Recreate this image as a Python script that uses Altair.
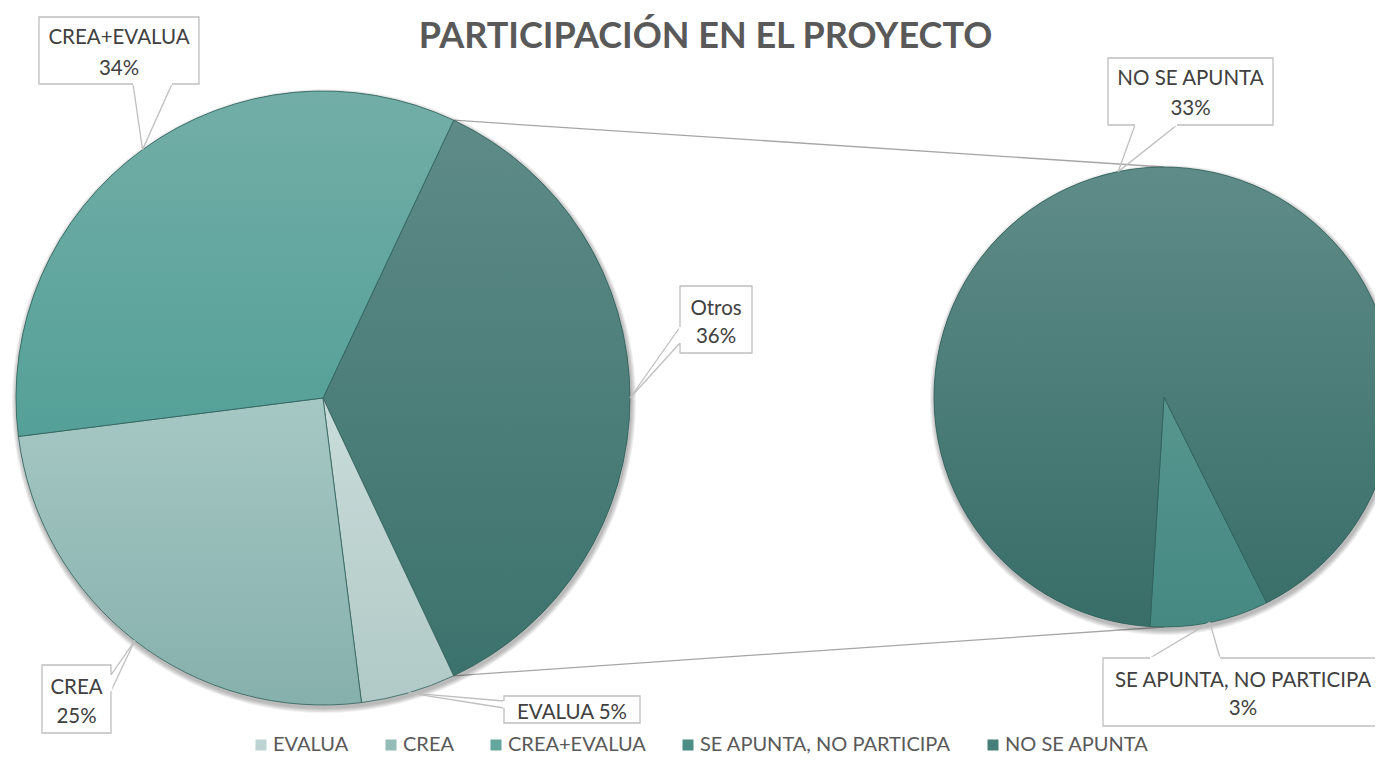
import math
import altair as alt
import pandas as pd

# ---------------- data ----------------
TITLE = "PARTICIPACIÓN EN EL PROYECTO"
main_labels = ["Otros", "EVALUA", "CREA", "CREA+EVALUA"]
main_values = [36, 5, 25, 34]
sub_labels = ["SE APUNTA, NO PARTICIPA", "NO SE APUNTA"]
sub_values = [3, 33]
legend_labels = ["EVALUA", "CREA", "CREA+EVALUA", "SE APUNTA, NO PARTICIPA", "NO SE APUNTA"]
palette = ["#bdd4d2", "#93bbb7", "#62a69e", "#4b8e87", "#467e79"]
other_color = "#477e79"
# gradient (top, bottom) colours of each slice
shades = {
    "EVALUA": ("#c9dcda", "#b1cac7"),
    "CREA": ("#a6c8c4", "#86b0ac"),
    "CREA+EVALUA": ("#72aea7", "#54a098"),
    "Otros": ("#5e8b87", "#3c726d"),
    "SE APUNTA, NO PARTICIPA": ("#56968f", "#458982"),
    "NO SE APUNTA": ("#5f8c88", "#386d68"),
}

# ---------------- layout (page pixel coordinates) ----------------
W, H, M = 1367, 749, 8
MAIN_C, MAIN_R = (323, 398), 307
SUB_C, SUB_R = (1164, 397), 230
SUB_START = 153.5
FONT = "Lato"
TXT = "#404040"
GRAY = "#bfbfbf"
LBL_SIZE = 20.5

main_start = 90 - main_values[0] / sum(main_values) * 180


def slice_angles(values, start):
    tot = sum(values)
    out, cum = [], 0
    for v in values:
        a1 = start + cum / tot * 360
        cum += v
        a2 = start + cum / tot * 360
        out.append((a1, a2))
    return out


def pt(c, r, deg):
    a = math.radians(deg)
    return c[0] + r * math.sin(a), c[1] - r * math.cos(a)


main_ang = slice_angles(main_values, main_start)
sub_ang = slice_angles(sub_values, SUB_START)

tips = {}
for lab, (a1, a2) in zip(main_labels, main_ang):
    tips[lab] = pt(MAIN_C, MAIN_R, (a1 + a2) / 2)
for lab, (a1, a2) in zip(sub_labels, sub_ang):
    tips[lab] = pt(SUB_C, SUB_R, (a1 + a2) / 2)

values = dict(zip(main_labels + sub_labels, main_values + sub_values))

callouts = {
    "CREA+EVALUA": dict(box=(39, 17, 199, 84), base=((133, 84), (172, 84)), lines=[44, 75]),
    "NO SE APUNTA": dict(box=(1108, 58, 1273, 125), base=((1135, 125), (1177, 125)), lines=[85, 115]),
    "Otros": dict(box=(680, 286, 752, 353), base=((680, 327), (680, 343)), lines=[315, 343]),
    "CREA": dict(box=(42, 665, 111, 733), base=((111, 675), (111, 691)), lines=[694, 723]),
    "EVALUA": dict(box=(504, 696, 640, 723), base=((504, 701), (504, 708)), lines=[719]),
    "SE APUNTA, NO PARTICIPA": dict(box=(1103, 658, 1383, 726), base=((1150, 658), (1220, 658)), lines=[687, 715]),
}

# ---------------- tables ----------------
main_df = pd.DataFrame({"label": main_labels, "value": main_values,
                        "ord": list(range(len(main_labels))),
                        "cx": MAIN_C[0], "cy": MAIN_C[1]})
sub_df = pd.DataFrame({"label": sub_labels, "value": sub_values,
                       "ord": list(range(len(sub_labels))),
                       "cx": SUB_C[0], "cy": SUB_C[1]})

o1, o2 = main_ang[0]
p1 = pt(MAIN_C, MAIN_R, o1)
p2 = pt(MAIN_C, MAIN_R, o2)
q1 = pt(SUB_C, SUB_R, 0)
q2 = pt(SUB_C, SUB_R, 180)
conn_df = pd.DataFrame({"x": [p1[0], p2[0]], "y": [p1[1], p2[1]],
                        "x2": [q1[0], q2[0]], "y2": [q1[1], q2[1]]})

box_rows, ptr_rows, cover_rows, txt_rows = [], [], [], []
for lab, c in callouts.items():
    x1, y1, x2, y2 = c["box"]
    box_rows.append({"x": x1, "y": y1, "x2": x2, "y2": y2})
    tx, ty = tips[lab]
    (b1x, b1y), (b2x, b2y) = c["base"]
    ptr_rows.append({"x": b1x, "y": b1y, "x2": tx, "y2": ty})
    ptr_rows.append({"x": b2x, "y": b2y, "x2": tx, "y2": ty})
    cover_rows.append({"x": b1x, "y": b1y, "x2": b2x, "y2": b2y})
    pct = f"{values[lab]}%"
    cx = (x1 + min(x2, 1383)) / 2
    if len(c["lines"]) == 1:
        txt_rows.append({"x": cx, "y": c["lines"][0], "t": f"{lab} {pct}"})
    else:
        txt_rows.append({"x": cx, "y": c["lines"][0], "t": lab})
        txt_rows.append({"x": cx, "y": c["lines"][1], "t": pct})

box_df = pd.DataFrame(box_rows)
ptr_df = pd.DataFrame(ptr_rows)
cover_df = pd.DataFrame(cover_rows)
txt_df = pd.DataFrame(txt_rows)
title_df = pd.DataFrame({"x": [705.5], "y": [48], "t": [TITLE]})

# ---------------- scales ----------------
xs = alt.Scale(domain=[M, W + M], nice=False, zero=False)
ys = alt.Scale(domain=[M, H + M], nice=False, zero=False, reverse=True)
X = lambda f: alt.X(f, scale=xs, axis=None)
Y = lambda f: alt.Y(f, scale=ys, axis=None)

color_scale = alt.Scale(domain=legend_labels + ["Otros"], range=palette + [other_color])
legend = alt.Legend(title=None, orient="none", legendX=243, legendY=727,
                    direction="horizontal", columns=5, values=legend_labels,
                    symbolType="square", symbolSize=121, symbolStrokeWidth=0,
                    labelFont=FONT, labelFontSize=20, labelColor="#595959", labelLimit=0,
                    columnPadding=32, labelOffset=2, padding=0)

# ---------------- layers ----------------
connectors = alt.Chart(conn_df).mark_rule(color="#a6a6a6", strokeWidth=1.3).encode(
    x=X("x:Q"), y=Y("y:Q"), x2="x2:Q", y2="y2:Q")


def grad(top, bottom):
    return {"gradient": "linear", "x1": 0, "y1": 0, "x2": 0, "y2": 1,
            "stops": [{"offset": 0, "color": top}, {"offset": 1, "color": bottom}]}


def shadow(center, r):
    df = pd.DataFrame({"cx": [center[0] + 1], "cy": [center[1] + 3]})
    layers = []
    for k in range(1, 6):
        layers.append(alt.Chart(df).mark_arc(radius=r + k, theta=0, theta2=2 * math.pi,
                                             color="black", opacity=0.06).encode(
            x=X("cx:Q"), y=Y("cy:Q")))
    return layers


def pie(df, r, start_deg):
    s = math.radians(start_deg)
    theta = alt.Theta("value:Q", stack=True, scale=alt.Scale(range=[s, s + 2 * math.pi]))
    base = alt.Chart(df).mark_arc(radius=r).encode(
        theta=theta,
        color=alt.Color("label:N", scale=color_scale, legend=legend),
        order=alt.Order("ord:Q"),
        x=X("cx:Q"), y=Y("cy:Q"),
    )
    conds = [{"test": f"datum.label === '{lab}'", "value": grad(*shades[lab])}
             for lab in df["label"]]
    over = alt.Chart(df).mark_arc(radius=r, stroke="#30605b", strokeWidth=0.8).encode(
        theta=theta,
        fill=alt.FillValue(value="#467e79", condition=conds),
        order=alt.Order("ord:Q"),
        x=X("cx:Q"), y=Y("cy:Q"),
    )
    return [base, over]


main_layers = pie(main_df, MAIN_R, main_start)
sub_layers = pie(sub_df, SUB_R, SUB_START)

pointers = alt.Chart(ptr_df).mark_rule(color=GRAY, strokeWidth=1.3).encode(
    x=X("x:Q"), y=Y("y:Q"), x2="x2:Q", y2="y2:Q")
boxes = alt.Chart(box_df).mark_rect(fill="white", stroke=GRAY, strokeWidth=1.3).encode(
    x=X("x:Q"), y=Y("y:Q"), x2="x2:Q", y2="y2:Q")
covers = alt.Chart(cover_df).mark_rule(color="white", strokeWidth=2.5).encode(
    x=X("x:Q"), y=Y("y:Q"), x2="x2:Q", y2="y2:Q")
texts = alt.Chart(txt_df).mark_text(font=FONT, fontSize=LBL_SIZE, color=TXT,
                                    align="center", baseline="alphabetic").encode(
    x=X("x:Q"), y=Y("y:Q"), text="t:N")
title = alt.Chart(title_df).mark_text(font=FONT, fontSize=36, fontWeight="bold", color="#595959",
                                      align="center", baseline="alphabetic").encode(
    x=X("x:Q"), y=Y("y:Q"), text="t:N")

layers = ([connectors] + shadow(MAIN_C, MAIN_R) + shadow(SUB_C, SUB_R)
          + main_layers + sub_layers + [pointers, boxes, covers, texts, title])

chart = alt.layer(*layers).resolve_scale(
    theta="independent"
).properties(
    width=W, height=H, padding=0, autosize=alt.AutoSizeParams(type="none")
).configure_view(strokeWidth=0)

chart.save("out.html", embed_options={"renderer": "svg", "actions": False})
